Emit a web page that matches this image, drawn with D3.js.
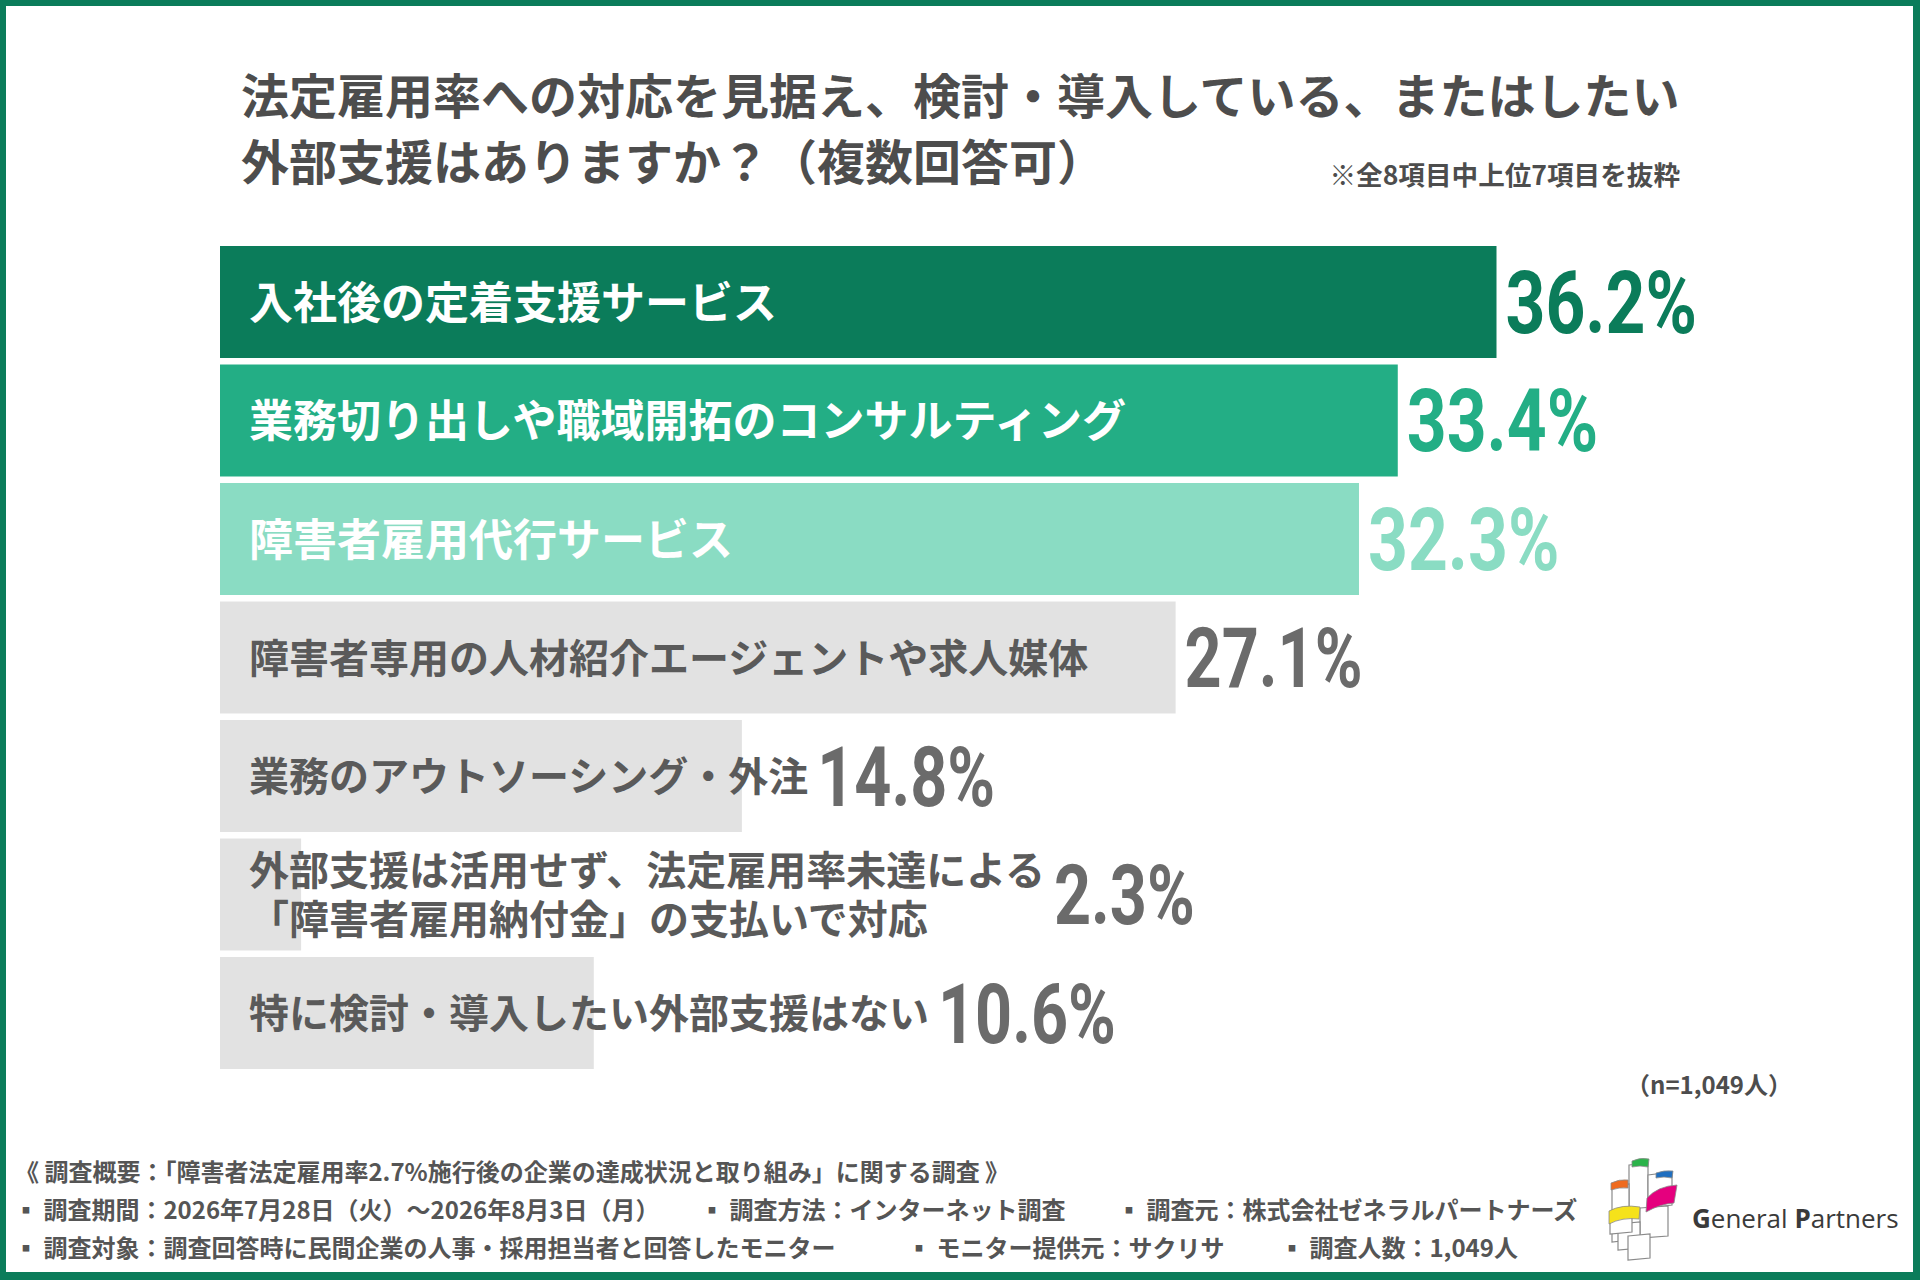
<!DOCTYPE html>
<html lang="ja">
<head>
<meta charset="utf-8">
<script src="https://cdn.jsdelivr.net/npm/d3@7"></script>
<style>
  html, body { margin: 0; padding: 0; background: #ffffff; }
  svg { display: block; }
</style>
</head>
<body>
<svg id="chart" width="1920" height="1280"></svg>
<script>
// ---------- data ----------
const titleLines = [
  "法定雇用率への対応を見据え、検討・導入している、またはしたい",
  "外部支援はありますか？（複数回答可）"
];
const noteText = "※全8項目中上位7項目を抜粋";
const categories = [
  ["入社後の定着支援サービス"],
  ["業務切り出しや職域開拓のコンサルティング"],
  ["障害者雇用代行サービス"],
  ["障害者専用の人材紹介エージェントや求人媒体"],
  ["業務のアウトソーシング・外注"],
  ["外部支援は活用せず、法定雇用率未達による", "「障害者雇用納付金」の支払いで対応"],
  ["特に検討・導入したい外部支援はない"]
];
const values = [36.2, 33.4, 32.3, 27.1, 14.8, 2.3, 10.6];
const sampleText = "（n=1,049人）";
const footerLine1 = ["《 調査概要：「障害者法定雇用率2.7%施行後の企業の達成状況と取り組み」に関する調査 》"];
const footerLine2 = ["▪ 調査期間：2026年7月28日（火）～2026年8月3日（月）", "▪ 調査方法：インターネット調査", "▪ 調査元：株式会社ゼネラルパートナーズ"];
const footerLine3 = ["▪ 調査対象：調査回答時に民間企業の人事・採用担当者と回答したモニター", "▪ モニター提供元：サクリサ", "▪ 調査人数：1,049人"];
const brandWords = [["G", "eneral "], ["P", "artners"]];

// ---------- styles ----------
const barPalette = ["#0b7c5a", "#23ae85", "#8adcc3", "#e2e2e2", "#e2e2e2", "#e2e2e2", "#e2e2e2"];
const valuePalette = ["#0b7c5a", "#23ae85", "#8adcc3", "#6b6b6b", "#6b6b6b", "#6b6b6b", "#6b6b6b"];
const labelPalette = ["#ffffff", "#ffffff", "#ffffff", "#5a5a5a", "#5a5a5a", "#5a5a5a", "#5a5a5a"];
const JP = "'Noto Sans CJK JP', 'Noto Sans', sans-serif";
const NUM = "Roboto, 'Noto Sans', sans-serif";
const green = "#0b7c5a";
const textGray = "#4d4d4d";

const svg = d3.select("#chart");

// frame
svg.append("rect").attr("x", 0).attr("y", 0).attr("width", 1920).attr("height", 1280).attr("fill", "#fff");
svg.append("rect").attr("x", 0).attr("y", 0).attr("width", 1920).attr("height", 6).attr("fill", green);
svg.append("rect").attr("x", 0).attr("y", 0).attr("width", 6).attr("height", 1280).attr("fill", green);
svg.append("rect").attr("x", 1913).attr("y", 0).attr("width", 7).attr("height", 1280).attr("fill", green);
svg.append("rect").attr("x", 0).attr("y", 1272).attr("width", 1920).attr("height", 8).attr("fill", green);

// title
svg.append("g").selectAll("text").data(titleLines).join("text")
  .attr("x", 241).attr("y", (d, i) => 114 + i * 66)
  .attr("font-family", JP).attr("font-weight", 700).attr("font-size", 48)
  .attr("fill", textGray).text(d => d);

svg.append("text").attr("x", 1680).attr("y", 185).attr("text-anchor", "end")
  .attr("font-family", JP).attr("font-weight", 700).attr("font-size", 26.6)
  .attr("fill", textGray).text(noteText);

// scales
const idx = d3.range(values.length);
const y = d3.scaleBand().domain(idx).range([242.75, 1072.25]).paddingInner(0.0549).paddingOuter(0.02745);
const x = d3.scaleLinear().domain([0, d3.max(values)]).range([220, 1496.5]);

const rows = svg.append("g").selectAll("g").data(idx).join("g");

rows.append("rect")
  .attr("x", x(0)).attr("y", i => y(i))
  .attr("width", i => x(values[i]) - x(0)).attr("height", y.bandwidth())
  .attr("fill", i => barPalette[i]);

const labelX = 249;
const labelEnds = [];
rows.each(function(i) {
  const g = d3.select(this);
  const lines = categories[i];
  const fs = i < 3 ? 44 : 40;
  const c = y(i) + y.bandwidth() / 2;
  const t = g.append("text")
    .attr("font-family", JP).attr("font-weight", 700).attr("font-size", fs)
    .attr("fill", labelPalette[i]);
  let maxEnd = 0;
  lines.forEach((ln, k) => {
    const off = lines.length === 1 ? 0 : (k === 0 ? -24.75 : 24.75);
    const ts = t.append("tspan")
      .attr("x", labelX).attr("y", c + off + 0.38 * fs).text(ln);
    maxEnd = Math.max(maxEnd, labelX + ts.node().getComputedTextLength());
  });
  labelEnds[i] = maxEnd;
});

rows.each(function(i) {
  const g = d3.select(this);
  const fs = i < 3 ? 87 : 84;
  const sx = i < 3 ? 0.8 : 0.77;
  const c = y(i) + y.bandwidth() / 2;
  const vx = Math.max(x(values[i]), labelEnds[i]) + 9;
  g.append("text")
    .attr("transform", `translate(${vx},${c + 0.3555 * fs}) scale(${sx},1)`)
    .attr("font-family", NUM).attr("font-weight", 700).attr("font-size", fs)
    .attr("fill", valuePalette[i]).text(d3.format(".1f")(values[i]) + "%");
});

// sample size
svg.append("text").attr("x", 1792).attr("y", 1094).attr("text-anchor", "end")
  .attr("font-family", JP).attr("font-weight", 700).attr("font-size", 24)
  .attr("fill", textGray).text(sampleText);

// footer
const footerRows = [
  {items: footerLine1, xs: [15], cy: 1172},
  {items: footerLine2, xs: [14, 700, 1117], cy: 1210},
  {items: footerLine3, xs: [14, 907, 1280], cy: 1248}
];
const fg = svg.append("g");
footerRows.forEach(r => {
  r.items.forEach((t, k) => {
    fg.append("text").attr("x", r.xs[k]).attr("y", r.cy + 0.38 * 24)
      .attr("font-family", JP).attr("font-weight", 700).attr("font-size", 24)
      .attr("fill", "#555555").text(t);
  });
});

// logo (decorative)
const logo = svg.append("g").attr("fill", "#fff").attr("stroke", "#8a8a8a").attr("stroke-width", 1.2);
const boxes = [
  "M1629,1165 L1648,1163 L1648,1233 L1629,1235 Z",
  "M1612,1186 L1629,1184 L1629,1240 L1612,1242 Z",
  "M1648,1175 L1672,1172 L1672,1205 L1648,1208 Z",
  "M1640,1208 L1668,1206 L1668,1236 L1640,1238 Z",
  "M1618,1224 L1640,1222 L1640,1248 L1618,1250 Z",
  "M1628,1236 L1650,1234 L1650,1258 L1628,1260 Z",
  "M1610,1214 L1632,1212 L1632,1232 L1610,1234 Z"
];
logo.selectAll("path").data(boxes).join("path").attr("d", d => d);
const flaps = [
  {d: "M1632,1161 Q1640,1157 1649,1159 L1648,1167 Q1640,1165 1632,1167 Z", c: "#2bb34a"},
  {d: "M1656,1173 Q1664,1170 1673,1171 L1672,1178 Q1664,1176 1656,1178 Z", c: "#1f6fc0"},
  {d: "M1611,1183 Q1619,1179 1628,1180 L1628,1188 Q1619,1187 1611,1190 Z", c: "#ef6b1f"},
  {d: "M1647,1198 Q1658,1186 1677,1185 L1674,1203 Q1660,1204 1646,1212 Z", c: "#e5007e"},
  {d: "M1609,1211 Q1622,1204 1640,1207 L1639,1219 Q1622,1217 1609,1224 Z", c: "#f5e21b"}
];
svg.append("g").selectAll("path").data(flaps).join("path")
  .attr("d", d => d.d).attr("fill", d => d.c).attr("stroke", "#8a8a8a").attr("stroke-width", 0.8);

const brand = svg.append("text").attr("x", 1692).attr("y", 1228)
  .attr("font-family", "'Open Sans', 'Noto Sans', sans-serif").attr("font-size", 26).attr("fill", "#3a3a3a");
brandWords.forEach(w => {
  brand.append("tspan").attr("font-weight", 700).text(w[0]);
  brand.append("tspan").attr("font-weight", 400).text(w[1]);
});
</script>
</body>
</html>
